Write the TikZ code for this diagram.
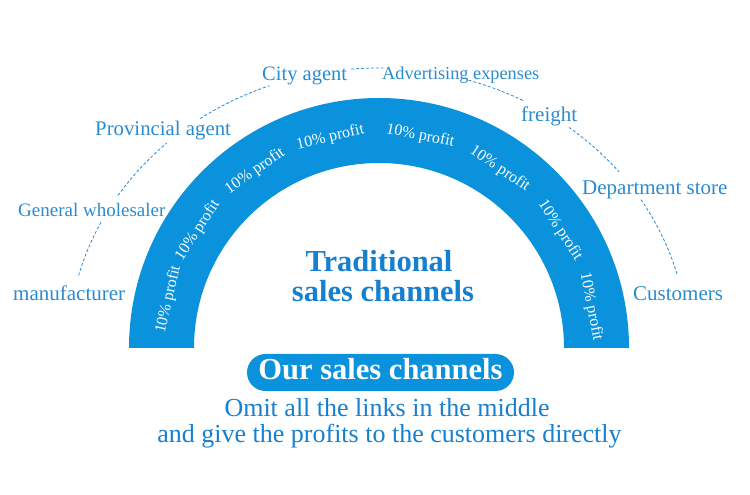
\documentclass[tikz,border=0pt]{standalone}
\usepackage{fontspec}
\setmainfont{Liberation Serif}
\definecolor{archblue}{HTML}{0A93DC}
\definecolor{labelblue}{HTML}{2A8BCF}
\definecolor{titleblue}{HTML}{1680D0}
\tikzset{
  lbl/.style={anchor=base west, inner sep=0pt, text=labelblue},
  profit/.style={text=white, inner sep=0pt, font=\fontsize{16}{16}\selectfont},
  dashline/.style={draw=labelblue, line width=0.8pt, dash pattern=on 3pt off 2pt},
  ttl/.style={anchor=base, inner sep=0pt, text=titleblue, font=\bfseries\fontsize{30.5}{30.5}\selectfont},
  pill/.style={fill=archblue, rounded corners=18.5pt, minimum width=267pt, minimum height=37pt,
    text=white, inner sep=0pt, text height=22pt, text depth=7pt, font=\bfseries\fontsize{30.5}{30.5}\selectfont},
  bottomtext/.style={anchor=base, inner sep=0pt, text=titleblue, font=\fontsize{26}{26}\selectfont}
}
\begin{document}
\begin{tikzpicture}[x=1pt,y=1pt]
\useasboundingbox (0,0) rectangle (750,495);
\coordinate (C) at (379,147);
% arch
\fill[archblue] (129,147) arc[start angle=180,end angle=0,radius=250pt] -- (564,147)
  arc[start angle=0,end angle=180,radius=185pt] -- cycle;
% profit labels
\foreach \a [count=\i] in {167,147,125,103,79,56,33,11}
  \node[profit, rotate=\a-90] (p\i) at ([shift={(\a:216pt)}]C) {10\% profit};
% outer labels
\node[lbl, font=\fontsize{21}{21}\selectfont] (manu) at (13,194) {manufacturer};
\node[lbl, font=\fontsize{19}{19}\selectfont] (gw) at (18,278.3) {General wholesaler};
\node[lbl, font=\fontsize{20.8}{20.8}\selectfont] (pa) at (95,359) {Provincial agent};
\node[lbl, font=\fontsize{20.5}{20.5}\selectfont] (ca) at (262,414.3) {City agent};
\node[lbl, font=\fontsize{18.3}{18.3}\selectfont] (ad) at (382,415) {Advertising expenses};
\node[lbl, font=\fontsize{21}{21}\selectfont] (fr) at (521,373.3) {freight};
\node[lbl, font=\fontsize{21}{21}\selectfont] (ds) at (582,300) {Department store};
\node[lbl, font=\fontsize{21}{21}\selectfont] (cu) at (633,194.3) {Customers};
% dashed connectors (elliptical arc, centre (378,147), radii 310 x 280)
\coordinate (d1a) at (78.6,219.5);  \coordinate (d1b) at (101.8,274.1);
\coordinate (d2a) at (118,299.5);   \coordinate (d2b) at (166.6,351.8);
\coordinate (d3a) at (200.2,376.4); \coordinate (d3b) at (269.4,409.3);
\coordinate (d4a) at (351,425.9);
\coordinate (d5a) at (468.6,414.8);
\coordinate (d6a) at (568.9,367.6);
\coordinate (d7a) at (640.9,295.4);
\draw[dashline] (d1a) arc[start angle=165,end angle=153,x radius=310pt,y radius=280pt];
\draw[dashline] (d2a) arc[start angle=147,end angle=133,x radius=310pt,y radius=280pt];
\draw[dashline] (d3a) arc[start angle=125,end angle=110.5,x radius=310pt,y radius=280pt];
\draw[dashline] (d4a) arc[start angle=95,end angle=89,x radius=310pt,y radius=280pt];
\draw[dashline] (d5a) arc[start angle=73,end angle=62,x radius=310pt,y radius=280pt];
\draw[dashline] (d6a) arc[start angle=52,end angle=39,x radius=310pt,y radius=280pt];
\draw[dashline] (d7a) arc[start angle=32,end angle=15,x radius=310pt,y radius=280pt];
% title
\node[ttl] (t1) at (379,223) {Traditional};
\node[ttl] (t2) at (383,193) {sales channels};
% pill
\node[pill] (ours) at (380.5,122.5) {Our sales channels};
% bottom text
\node[bottomtext] (b1) at (387,78.3) {Omit all the links in the middle};
\node[bottomtext] (b2) at (389.5,52) {and give the profits to the customers directly};
\end{tikzpicture}
\end{document}
